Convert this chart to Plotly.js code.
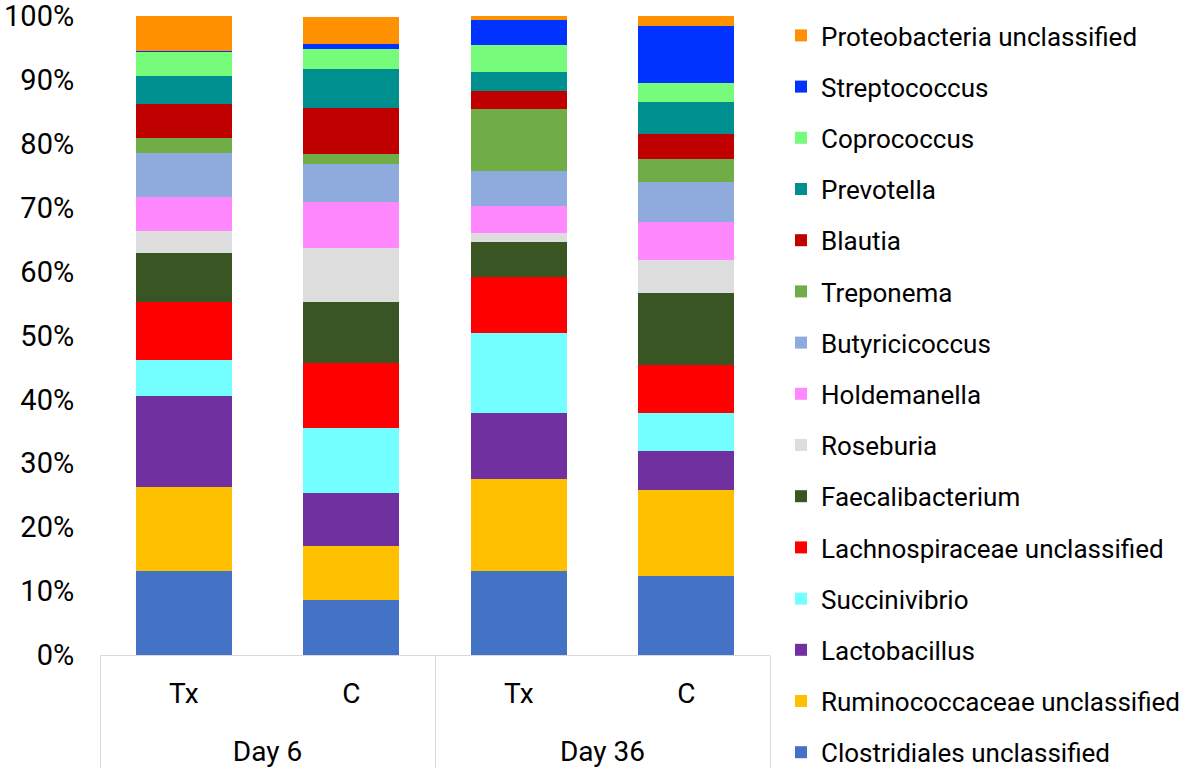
<!DOCTYPE html>
<html>
<head>
<meta charset="utf-8">
<script src="https://cdn.plot.ly/plotly-3.0.1.min.js"></script>
<style>html,body{margin:0;padding:0;background:#fff}#chart{width:1181px;height:768px}</style>
</head>
<body>
<div id="chart"></div>
<script>
const days = ["Day 6", "Day 6", "Day 36", "Day 36"];
const groups = ["Tx", "C", "Tx", "C"];
const yTicks = [0, 10, 20, 30, 40, 50, 60, 70, 80, 90, 100];

// values in percent, bottom to top
const clostridiales = [13.2, 8.6, 13.2, 12.3];
const ruminococcaceae = [13.1, 8.4, 14.4, 13.6];
const lactobacillus = [14.3, 8.3, 10.2, 6.1];
const succinivibrio = [5.6, 10.3, 12.6, 5.8];
const lachnospiraceae = [9.1, 10.1, 8.8, 7.6];
const faecalibacterium = [7.6, 9.6, 5.5, 11.3];
const roseburia = [3.4, 8.4, 1.4, 5.1];
const holdemanella = [5.3, 7.2, 4.1, 5.9];
const butyricicoccus = [7.0, 6.0, 5.5, 6.4];
const treponema = [2.3, 1.5, 9.7, 3.5];
const blautia = [5.3, 7.2, 2.8, 3.9];
const prevotella = [4.4, 6.1, 3.1, 5.1];
const coprococcus = [3.8, 3.2, 4.2, 2.9];
const streptococcus = [0.2, 0.7, 3.8, 9.0];
const proteobacteria = [5.4, 4.3, 0.9, 1.7];

const seriesNames = ["Clostridiales unclassified", "Ruminococcaceae unclassified", "Lactobacillus",
  "Succinivibrio", "Lachnospiraceae unclassified", "Faecalibacterium", "Roseburia", "Holdemanella",
  "Butyricicoccus", "Treponema", "Blautia", "Prevotella", "Coprococcus", "Streptococcus",
  "Proteobacteria unclassified"];
const seriesValues = [clostridiales, ruminococcaceae, lactobacillus, succinivibrio, lachnospiraceae,
  faecalibacterium, roseburia, holdemanella, butyricicoccus, treponema, blautia, prevotella,
  coprococcus, streptococcus, proteobacteria];
const seriesColors = ["#4472C4", "#FFC000", "#7030A0", "#73FEFF", "#FF0000", "#3A5524", "#DDDDDD",
  "#FF88FF", "#8FAADC", "#70AD47", "#C00000", "#008F8F", "#76FC7A", "#0033FF", "#FF9000"];

// outer category labels are pushed one line down to sit under the inner labels
const outerLabels = days.map(d => "<br>" + d);

const traces = seriesNames.map((name, i) => ({
  type: "bar",
  name: name,
  legendgroup: "g" + i,
  legendrank: 1000 - i,
  x: [outerLabels, groups],
  y: seriesValues[i],
  marker: { color: seriesColors[i], line: { width: 0 } },
  hoverinfo: "name+y"
}));

const FONT = "Roboto, 'Liberation Sans', Arial, sans-serif";

const layout = {
  width: 1181,
  height: 768,
  margin: { l: 100, r: 411, t: 16, b: 113, autoexpand: false },
  paper_bgcolor: "#fff",
  plot_bgcolor: "#fff",
  barmode: "stack",
  bargap: 0.425,
  font: { family: FONT, size: 28, color: "#000" },
  showlegend: true,
  legend: {
    xref: "container", yref: "container",
    x: 781 / 1181, xanchor: "left",
    y: 1 - 12 / 768, yanchor: "top",
    traceorder: "grouped",
    tracegroupgap: 14.4,
    font: { family: FONT, size: 26, color: "#000" },
    itemwidth: 30,
    maxheight: 1
  },
  xaxis: {
    type: "multicategory",
    showline: true,
    linecolor: "#d9d9d9",
    linewidth: 1,
    showdividers: true,
    dividercolor: "#d9d9d9",
    dividerwidth: 1,
    tickfont: { family: FONT, size: 28, color: "#000" },
    ticks: "",
    ticklabelstandoff: 13,
    showgrid: false
  },
  yaxis: {
    range: [0, 100],
    tickmode: "array",
    tickvals: yTicks,
    ticktext: yTicks.map(v => v + "%"),
    ticklabeloverflow: "allow",
    showgrid: false,
    zeroline: false,
    showline: false,
    ticks: "outside",
    ticklen: 19,
    tickcolor: "rgba(0,0,0,0)",
    tickfont: { family: FONT, size: 29, color: "#000" }
  }
};

Plotly.newPlot("chart", traces, layout, { displayModeBar: false, staticPlot: true });
</script>
</body>
</html>
